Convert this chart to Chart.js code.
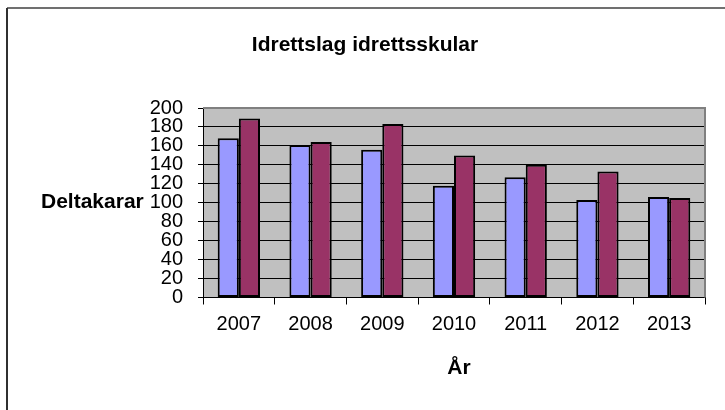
<!DOCTYPE html>
<html>
<head>
<meta charset="utf-8">
<script src="https://cdn.jsdelivr.net/npm/chart.js@4/dist/chart.umd.min.js"></script>
<style>
  html, body { margin: 0; padding: 0; background: #fff; }
  #wrap { width: 725px; height: 410px; position: relative; }
</style>
</head>
<body>
<div id="wrap"><canvas id="allChart" width="725" height="410"></canvas></div>
<script>
const years = ['2007', '2008', '2009', '2010', '2011', '2012', '2013'];
const series1 = [168, 161, 156, 118, 127, 103, 106];
const series2 = [189, 164, 183, 150, 140, 133, 105];
const yTicks = [0, 20, 40, 60, 80, 100, 120, 140, 160, 180, 200];

const chartTitle = 'Idrettslag idrettsskular';
const yTitle = 'Deltakarar';
const xTitle = 'År';

const FONT = '"Liberation Sans", Arial, sans-serif';

// grey plot background, frame and the free-standing labels
const decor = {
  id: 'decor',
  beforeDraw(chart) {
    const { ctx, chartArea: a } = chart;
    ctx.save();
    ctx.fillStyle = '#C0C0C0';
    ctx.fillRect(a.left, a.top, a.right - a.left, a.bottom - a.top);
    ctx.restore();
  },
  afterDraw(chart) {
    const { ctx, chartArea: a } = chart;
    ctx.save();
    // plot border top/right
    ctx.strokeStyle = '#808080';
    ctx.lineWidth = 2;
    ctx.beginPath();
    ctx.moveTo(a.left, a.top);
    ctx.lineTo(a.right, a.top);
    ctx.lineTo(a.right, a.bottom);
    ctx.stroke();
    // outer frame (cut off at right and bottom)
    ctx.strokeStyle = '#707070';
    ctx.lineWidth = 2;
    ctx.beginPath();
    ctx.moveTo(7, 8);
    ctx.lineTo(725, 8);
    ctx.stroke();
    ctx.strokeStyle = '#303030';
    ctx.beginPath();
    ctx.moveTo(7, 8);
    ctx.lineTo(7, 410);
    ctx.stroke();
    // texts
    ctx.fillStyle = '#000';
    ctx.font = 'bold 21px ' + FONT;
    ctx.textBaseline = 'middle';
    ctx.textAlign = 'center';
    ctx.fillText(chartTitle, 365, 45);
    ctx.fillText(xTitle, 459, 368);
    ctx.textAlign = 'left';
    ctx.fillText(yTitle, 41, 202);
    ctx.restore();
  }
};

new Chart(document.getElementById('allChart'), {
  type: 'bar',
  data: {
    labels: years,
    datasets: [{
      label: 'Serie1',
      data: series1,
      backgroundColor: '#9999FF',
      borderColor: '#000',
      borderWidth: 2,
      borderSkipped: false
    }, {
      label: 'Serie2',
      data: series2,
      backgroundColor: '#993366',
      borderColor: '#000',
      borderWidth: 2,
      borderSkipped: false
    }]
  },
  options: {
    responsive: false,
    animation: false,
    layout: { padding: { top: 108, right: 20, left: 0, bottom: 0 } },
    datasets: { bar: { barPercentage: 1, categoryPercentage: 0.59 } },
    plugins: {
      legend: { display: false },
      title: { display: false },
      tooltip: { enabled: false }
    },
    scales: {
      x: {
        afterFit: s => { s.height = 112.5; },
        grid: {
          offset: true,
          drawOnChartArea: false,
          drawTicks: true,
          tickLength: 7,
          tickColor: '#000'
        },
        border: { color: '#000', width: 1 },
        ticks: { color: '#000', font: { family: FONT, size: 20 }, padding: 8, autoSkip: false, maxRotation: 0 }
      },
      y: {
        min: 0,
        max: 200,
        afterFit: s => { s.width = 203; },
        afterBuildTicks: s => { s.ticks = yTicks.map(v => ({ value: v })); },
        grid: {
          color: c => (c.tick && c.tick.value === 200) ? '#808080' : '#000',
          lineWidth: 1,
          tickLength: 5,
          tickColor: '#000'
        },
        border: { color: '#000', width: 1 },
        ticks: { color: '#000', font: { family: FONT, size: 20 }, padding: 15, autoSkip: false }
      }
    }
  },
  plugins: [decor]
});
</script>
</body>
</html>
